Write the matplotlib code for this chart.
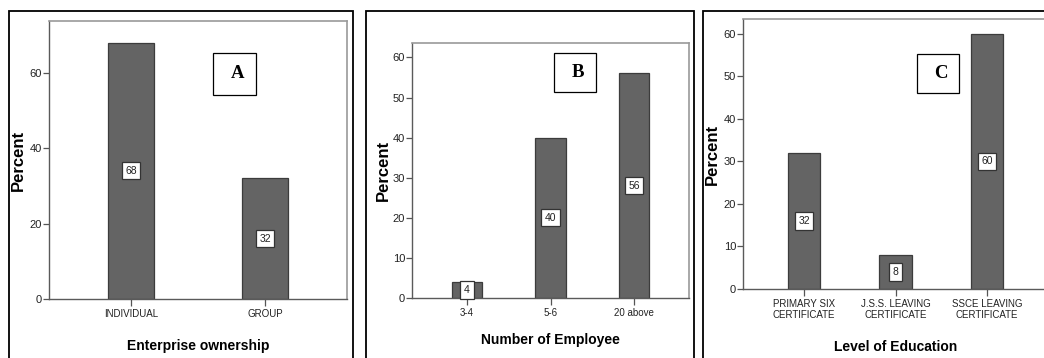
import matplotlib
matplotlib.use("Agg")
import matplotlib.pyplot as plt
from matplotlib.patches import Rectangle

# ---- data -------------------------------------------------------------
ownership_labels = ["INDIVIDUAL", "GROUP"]
ownership_pct = [68, 32]

employee_labels = ["3-4", "5-6", "20 above"]
employee_pct = [4, 40, 56]

education_labels = ["PRIMARY SIX\nCERTIFICATE", "J.S.S. LEAVING\nCERTIFICATE",
                    "SSCE LEAVING\nCERTIFICATE"]
education_pct = [32, 8, 60]

panel_letters = ["A", "B", "C"]
x_titles = ["Enterprise ownership", "Number of Employee", "Level of Education"]

# ---- styling ----------------------------------------------------------
W, H = 1044, 358
SANS = ["Liberation Sans", "DejaVu Sans"]
SERIF = ["Liberation Serif", "DejaVu Serif"]
BAR_FILL = "#646464"
BAR_EDGE = "#3c3c3c"

fig = plt.figure(figsize=(W / 100, H / 100), dpi=100)
fig.patch.set_facecolor("white")


def px_axes(left, right, top, bottom):
    """Axes placed by pixel edges (origin at top-left of the figure)."""
    return fig.add_axes([left / W, 1 - bottom / H, (right - left) / W, (bottom - top) / H])


def px_rect(left, right, top, bottom, lw):
    fig.add_artist(Rectangle((left / W, 1 - bottom / H), (right - left) / W, (bottom - top) / H,
                             transform=fig.transFigure, fill=False, edgecolor="black",
                             linewidth=lw, clip_on=False))


def letter_box(left, right, top, bottom, letter):
    fig.add_artist(Rectangle((left / W, 1 - bottom / H), (right - left) / W, (bottom - top) / H,
                             transform=fig.transFigure, facecolor="white", edgecolor="black",
                             linewidth=0.9, zorder=5))
    fig.text((left + right) / 2 / W + 0.003, 1 - (top + bottom) / 2 / H, letter,
             family=SERIF, fontweight="bold", fontsize=13.5, ha="center", va="center", zorder=6)


def bar_panel(ax, labels, values, xlim, ylim, yticks, width, title, ylab_off, xlab_off):
    x = list(range(len(values)))
    ax.bar(x, values, width=width, color=BAR_FILL, edgecolor=BAR_EDGE, linewidth=0.9, zorder=2)
    for xi, v in zip(x, values):
        ax.text(xi, v / 2, f"{v}", family=SANS, fontsize=7.5, ha="center", va="center",
                zorder=4, clip_on=False, color="#222222",
                bbox=dict(boxstyle="square,pad=0.35", facecolor="white",
                          edgecolor="#333333", linewidth=0.9))
    ax.set_xlim(*xlim)
    ax.set_ylim(*ylim)
    ax.set_xticks(x)
    ax.set_xticklabels(labels, family=SANS, fontsize=7, color="#222222", linespacing=1.15)
    ax.set_yticks(yticks)
    ax.set_yticklabels([str(t) for t in yticks], family=SANS, fontsize=8, color="#222222")
    ax.tick_params(axis="y", length=4, width=0.9, color="#555555", pad=1)
    ax.tick_params(axis="x", length=5, width=0.9, color="#555555", pad=2)
    for side in ("left", "bottom"):
        ax.spines[side].set_color("#5a5a5a")
        ax.spines[side].set_linewidth(1.0)
    for side in ("top", "right"):
        ax.spines[side].set_color("#9a9a9a")
        ax.spines[side].set_linewidth(1.2)
    ax.set_ylabel("Percent", family=SANS, fontweight="bold", fontsize=12)
    ax.yaxis.set_label_coords(ylab_off, 0.5)
    ax.yaxis.label.set_verticalalignment("center")
    ax.set_xlabel(title, family=SANS, fontweight="bold", fontsize=10)
    ax.xaxis.set_label_coords(0.5, xlab_off)
    ax.xaxis.label.set_verticalalignment("center")


# outer panel frames (they run past the bottom / right edge of the figure)
px_rect(9, 353, 11, H + 10, 1.3)
px_rect(366, 694, 11, H + 10, 1.3)
px_rect(703, W + 20, 11, H + 10, 1.3)

# panel A
axA = px_axes(49, 347, 21, 299)
bar_panel(axA, ownership_labels, ownership_pct, (-0.612, 1.612), (0, 73.7),
          [0, 20, 40, 60], 0.35, x_titles[0], -31 / 298, -(346 - 299) / 278)

# panel B
axB = px_axes(412, 689, 43, 298)
bar_panel(axB, employee_labels, employee_pct, (-0.659, 2.659), (0, 63.6),
          [0, 10, 20, 30, 40, 50, 60], 0.36, x_titles[1], -29 / 277, -(340 - 298) / 255)

# panel C
axC = px_axes(743, 1048, 19, 289)
bar_panel(axC, education_labels, education_pct, (-0.667, 2.667), (0, 63.5),
          [0, 10, 20, 30, 40, 50, 60], 0.35, x_titles[2], -31 / 305, -(347 - 289) / 270)

# panel letters
letter_box(213, 256, 53, 95, panel_letters[0])
letter_box(554, 596, 53, 92, panel_letters[1])
letter_box(917, 959, 54, 93, panel_letters[2])

fig.savefig("out.png", dpi=100, facecolor="white")
